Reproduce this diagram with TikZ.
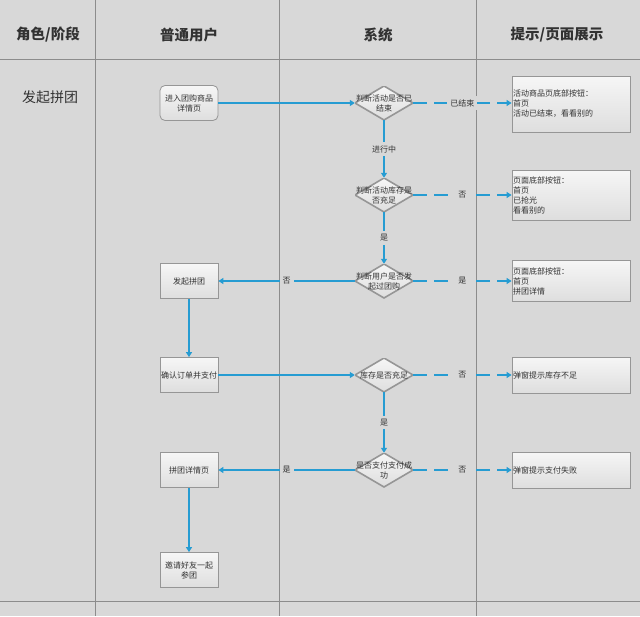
\documentclass[tikz,border=0pt]{standalone}
\usepackage{fontspec}
\setmainfont{Noto Sans CJK SC}
\usetikzlibrary{arrows.meta}
\definecolor{bg}{RGB}{216,216,216}
\definecolor{gridc}{RGB}{140,140,140}
\definecolor{boxline}{RGB}{150,150,150}
\definecolor{boxtop}{RGB}{246,246,246}
\definecolor{boxbot}{RGB}{222,222,222}
\definecolor{flowc}{RGB}{38,156,210}
\definecolor{txt}{RGB}{50,50,50}
\begin{document}
\begin{tikzpicture}[x=1pt,y=-1pt,
  gridline/.style={draw=gridc, line width=0.8pt},
  head/.style={font=\fontsize{14.5}{16}\selectfont\bfseries, text=txt},
  box/.style={draw=boxline, line width=0.8pt, top color=boxtop, bottom color=boxbot, minimum width=58pt, minimum height=35pt, inner sep=1pt, font=\fontsize{8}{10}\selectfont, align=center, text=txt},
  rbox/.style={draw=boxline, line width=0.8pt, top color=boxtop, bottom color=boxbot, minimum width=118pt, text width=116pt, inner sep=1pt, font=\fontsize{8}{10}\selectfont, align=left, text=txt},
  dnode/.style={minimum width=58pt, minimum height=34pt, inner sep=0pt, font=\fontsize{8}{10}\selectfont, align=center, text=txt,
    path picture={\shade[top color=boxtop, bottom color=boxbot] (path picture bounding box.north) -- (path picture bounding box.east) -- (path picture bounding box.south) -- (path picture bounding box.west) -- cycle;
      \draw[draw=boxline, line width=1.6pt] (path picture bounding box.north) -- (path picture bounding box.east) -- (path picture bounding box.south) -- (path picture bounding box.west) -- cycle;}},
  lab/.style={fill=bg, font=\fontsize{8}{10}\selectfont, inner sep=3pt, text=txt},
  flow/.style={draw=flowc, line width=1.3pt, -{Triangle[length=5pt,width=6pt]}},
  dflow/.style={flow, dash pattern=on 14pt off 7pt}
]
\fill[bg] (0,0) rectangle (640,616);
\useasboundingbox (0,0) rectangle (640,616);
\draw[gridline] (95,0) -- (95,616);
\draw[gridline] (279,0) -- (279,616);
\draw[gridline] (476,0) -- (476,616);
\draw[gridline] (0,59) -- (640,59);
\draw[gridline] (0,601) -- (640,601);

\node[head] (h1) at (48,35) {角色/阶段};
\node[head] (h2) at (189,35) {普通用户};
\node[head] (h3) at (378,35) {系统};
\node[head] (h4) at (557,35) {提示/页面展示};
\node[font=\fontsize{14}{16}\selectfont, text=txt] (stage) at (50,97) {发起拼团};

% user column
\node[box, rounded corners=5pt] (u1) at (189,103) {进入团购商品\\详情页};
\node[box] (u2) at (189,281) {发起拼团};
\node[box] (u3) at (189,375) {确认订单并支付};
\node[box] (u4) at (189,470) {拼团详情页};
\node[box] (u5) at (189,570) {邀请好友一起\\参团};

% system column
\node[dnode] (d1) at (384,103) {判断活动是否已\\结束};
\node[dnode] (d2) at (384,195) {判断活动库存是\\否充足};
\node[dnode] (d3) at (384,281) {判断用户是否发\\起过团购};
\node[dnode] (d4) at (384,375) {库存是否充足};
\node[dnode] (d5) at (384,470) {是否支付支付成\\功};

% hint column
\node[rbox, minimum height=56pt] (r1) at (571,104) {活动商品页底部按钮：\\首页\\活动已结束，看看别的};
\node[rbox, minimum height=50pt] (r2) at (571,195) {页面底部按钮：\\首页\\已抢光\\看看别的};
\node[rbox, minimum height=41pt] (r3) at (571,281) {页面底部按钮：\\首页\\拼团详情};
\node[rbox, minimum height=36pt] (r4) at (571,375) {弹窗提示库存不足};
\node[rbox, minimum height=36pt] (r5) at (571,470) {弹窗提示支付失败};

% flows
\draw[flow] (u1.east) -- (d1.west);
\draw[dflow] (d1.east) -- node[lab] {已结束} (r1.west |- d1.east);
\draw[flow] (d1.south) -- node[lab] {进行中} (d2.north);
\draw[dflow] (d2.east) -- node[lab] {否} (r2.west |- d2.east);
\draw[flow] (d2.south) -- node[lab] {是} (d3.north);
\draw[dflow] (d3.east) -- node[lab] {是} (r3.west |- d3.east);
\draw[flow] (d3.west) -- node[lab] {否} (u2.east);
\draw[flow] (u2.south) -- (u3.north);
\draw[flow] (u3.east) -- (d4.west);
\draw[dflow] (d4.east) -- node[lab] {否} (r4.west |- d4.east);
\draw[flow] (d4.south) -- node[lab] {是} (d5.north);
\draw[dflow] (d5.east) -- node[lab] {否} (r5.west |- d5.east);
\draw[flow] (d5.west) -- node[lab] {是} (u4.east);
\draw[flow] (u4.south) -- (u5.north);
\end{tikzpicture}
\end{document}
